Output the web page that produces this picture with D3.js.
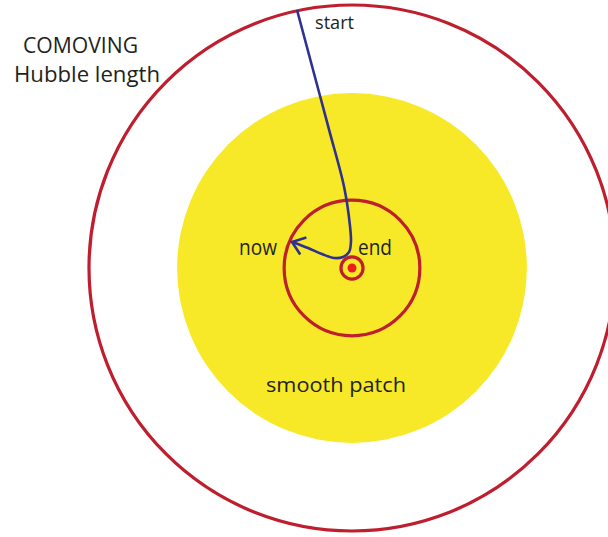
<!DOCTYPE html>
<html>
<head>
<meta charset="utf-8">
<script src="https://cdn.jsdelivr.net/npm/d3@7"></script>
<style>
  body { margin: 0; background: #fff; }
  text { font-family: "Open Sans", sans-serif; fill: #231f20; }
</style>
</head>
<body>
<script>
// comoving units: 1 = Hubble length at the start
const circleNames = ["Hubble length (start)", "smooth patch", "Hubble length (now)", "Hubble length (end)"];
const circleRadii = [1, 0.665, 0.258, 0.042];
const dotRadius = 0.017;

// trajectory of a comoving scale, start -> now (units relative to centre, y up)
const pathX = [-0.209, -0.148, -0.087, -0.030, -0.008, -0.004, -0.011, -0.034, -0.068, -0.114, -0.167, -0.228];
const pathY = [0.981, 0.753, 0.525, 0.308, 0.163, 0.099, 0.061, 0.042, 0.038, 0.053, 0.076, 0.099];

const labelText = ["start", "COMOVING", "Hubble length", "now", "end", "smooth patch"];

const width = 608;
const height = 537;
const cx = 352, cy = 268, R = 263;

const svg = d3.select("body").append("svg")
  .attr("width", width).attr("height", height);

const x = d3.scaleLinear().domain([-1, 1]).range([cx - R, cx + R]);
const y = d3.scaleLinear().domain([-1, 1]).range([cy + R, cy - R]);
const r = d3.scaleLinear().domain([0, 1]).range([0, R]);

const red = "#be1e2d";
const blue = "#2e3192";

// smooth patch (filled)
svg.append("circle")
  .attr("cx", x(0)).attr("cy", y(0))
  .attr("r", r(circleRadii[1]))
  .attr("fill", "#f7e928");

// hubble length circles
svg.selectAll(".hubble")
  .data(circleRadii.filter((d, i) => i !== 1))
  .enter()
  .append("circle")
  .attr("class", "hubble")
  .attr("cx", x(0)).attr("cy", y(0))
  .attr("r", d => r(d))
  .attr("fill", "none")
  .attr("stroke", red)
  .attr("stroke-width", 3.2);

svg.append("circle")
  .attr("cx", x(0)).attr("cy", y(0))
  .attr("r", r(dotRadius))
  .attr("fill", "#ed1c24");

// arrow head
svg.append("defs").append("marker")
  .attr("id", "arrow")
  .attr("markerUnits", "userSpaceOnUse")
  .attr("viewBox", "-14 -11 16 22")
  .attr("refX", 0).attr("refY", 0)
  .attr("markerWidth", 16).attr("markerHeight", 22)
  .attr("orient", "auto")
  .append("path")
  .attr("d", "M-12,-9L0,0L-12,9")
  .attr("fill", "none")
  .attr("stroke", blue)
  .attr("stroke-width", 2.6);

const line = d3.line()
  .x(d => x(d[0]))
  .y(d => y(d[1]))
  .curve(d3.curveCatmullRom);

svg.append("path")
  .attr("d", line(pathX.map((d, i) => [d, pathY[i]])))
  .attr("fill", "none")
  .attr("stroke", blue)
  .attr("stroke-width", 2.6)
  .attr("marker-end", "url(#arrow)");

// labels
const labels = [
  { t: labelText[0], x: 315, y: 29, size: 19, len: 39 },
  { t: labelText[1], x: 23, y: 53, size: 21, len: 115 },
  { t: labelText[2], x: 14, y: 82, size: 21, len: 146 },
  { t: labelText[3], x: 239, y: 255, size: 21, len: 38 },
  { t: labelText[4], x: 358, y: 255, size: 21, len: 34 },
  { t: labelText[5], x: 266, y: 392, size: 20, len: 140 }
];

svg.selectAll(".lbl")
  .data(labels)
  .enter()
  .append("text")
  .attr("class", "lbl")
  .attr("x", d => d.x)
  .attr("y", d => d.y)
  .attr("textLength", d => d.len)
  .attr("lengthAdjust", "spacingAndGlyphs")
  .style("font-size", d => d.size + "px")
  .text(d => d.t);
</script>
</body>
</html>
